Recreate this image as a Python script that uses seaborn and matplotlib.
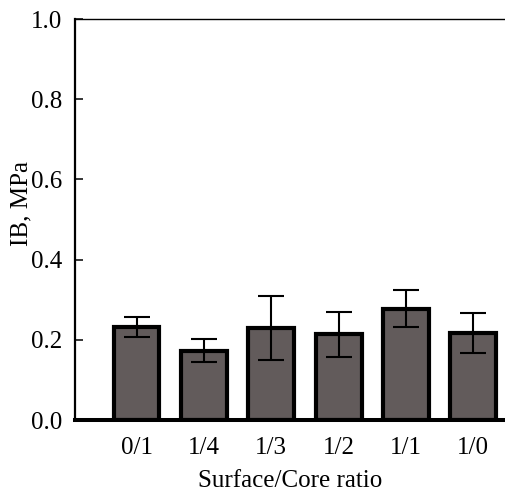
import matplotlib
matplotlib.use("Agg")
import matplotlib.pyplot as plt
import seaborn as sns
import pandas as pd
import numpy as np

categories = ["0/1", "1/4", "1/3", "1/2", "1/1", "1/0"]
ib_values = [0.233, 0.173, 0.229, 0.214, 0.278, 0.218]
ib_errors = [0.025, 0.028, 0.080, 0.056, 0.046, 0.050]
y_ticks = [0.0, 0.2, 0.4, 0.6, 0.8, 1.0]

sns.set_theme(style="white")
plt.rcParams['font.family'] = ['Liberation Serif', 'DejaVu Serif']
plt.rcParams['mathtext.fontset'] = 'stix'

df = pd.DataFrame({"ratio": categories, "IB": ib_values})

fig = plt.figure(figsize=(5.05, 4.98), dpi=100)
ax = fig.add_axes([75/505, 1 - 420/498, 1 - 75/505, (420 - 19)/498])

sns.barplot(data=df, x="ratio", y="IB", order=categories, color="#625b5b",
            saturation=1, width=0.68, edgecolor="black", linewidth=3.0,
            errorbar=None, ax=ax, zorder=2)
ax.errorbar(np.arange(len(categories)), ib_values, yerr=ib_errors, fmt="none",
            ecolor="black", elinewidth=1.5, capsize=9.5, capthick=1.5, zorder=3)

ax.set_ylim(0, 1.0)
ax.set_xlim(-0.913, 5.47)
ax.set_yticks(y_ticks)
ax.set_yticklabels([f"{v:.1f}" for v in y_ticks])

for s in ["left", "bottom", "top", "right"]:
    ax.spines[s].set_color("black")
ax.spines["right"].set_visible(False)
ax.spines["left"].set_linewidth(1.6)
ax.spines["bottom"].set_linewidth(2.9)
ax.spines["top"].set_linewidth(1.0)

ax.tick_params(axis="y", direction="in", length=6, width=1.1, color="black",
               labelsize=18, pad=9, left=True)
ax.tick_params(axis="x", length=0, labelsize=18, pad=12)
for lbl in ax.get_xticklabels() + ax.get_yticklabels():
    lbl.set_color("black")

ax.set_xlabel("Surface/Core ratio", fontsize=18, color="black")
ax.set_ylabel("IB, MPa", fontsize=18, color="black")
ax.yaxis.set_label_coords(-0.10, 0.541)
ax.xaxis.set_label_coords(0.5, -0.125)
ax.xaxis.label.set_va("top")

fig.savefig("out.png", dpi=100)
